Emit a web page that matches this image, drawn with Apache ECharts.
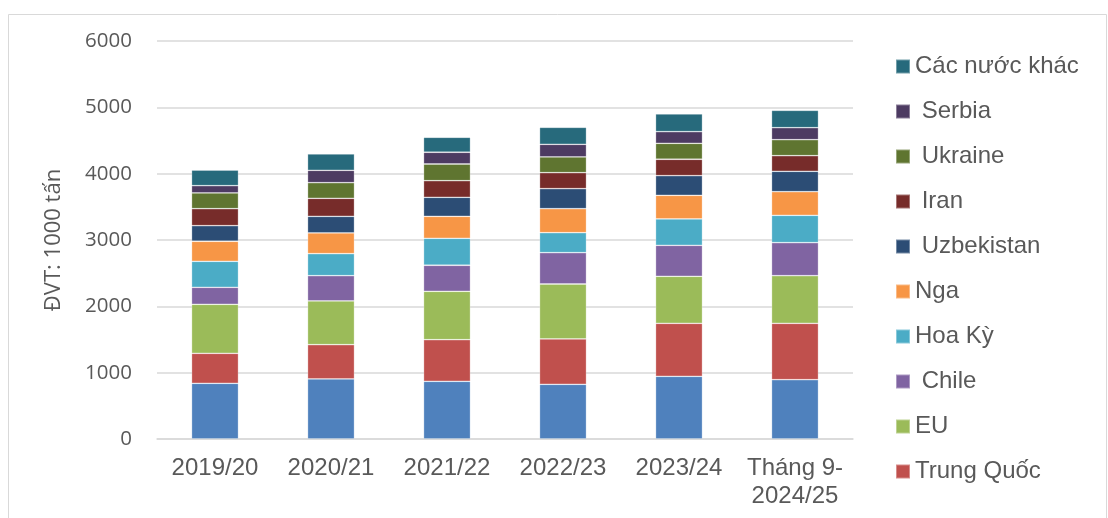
<!DOCTYPE html>
<html>
<head>
<meta charset="utf-8">
<script src="https://cdn.jsdelivr.net/npm/echarts@6/dist/echarts.min.js"></script>
<style>html,body{margin:0;padding:0;background:#fff}#c{width:1108px;height:518px}</style>
</head>
<body>
<div id="c"></div>
<script>
const categories = ['2019/20', '2020/21', '2021/22', '2022/23', '2023/24', 'Tháng 9-\n2024/25'];
const yTicks = [0, 1000, 2000, 3000, 4000, 5000, 6000];

const thoNhiKy   = [840, 905, 870, 825, 945, 894];
const trungQuoc  = [452, 517, 627, 683, 799, 850];
const eu         = [739, 659, 730, 829, 709, 718];
const chile      = [256, 381, 392, 472, 467, 498];
const hoaKy      = [392, 332, 407, 301, 397, 412];
const nga        = [302, 312, 331, 362, 357, 356];
const uzbekistan = [235, 251, 287, 302, 296, 308];
const iran       = [256, 272, 250, 241, 247, 235];
const ukraine    = [237, 235, 252, 237, 241, 241];
const serbia     = [110, 187, 177, 191, 175, 181];
const cacNuocKhac= [236, 246, 226, 256, 267, 262];

const seriesDefs = [
  ['Thổ Nhĩ Kỳ', thoNhiKy, '#4f81bd'],
  ['Trung Quốc', trungQuoc, '#c0504d'],
  ['EU', eu, '#9bbb59'],
  [' Chile', chile, '#8064a2'],
  ['Hoa Kỳ', hoaKy, '#4bacc6'],
  ['Nga', nga, '#f79646'],
  [' Uzbekistan', uzbekistan, '#2c4d75'],
  [' Iran', iran, '#772c2a'],
  [' Ukraine', ukraine, '#5f7530'],
  [' Serbia', serbia, '#4d3b62'],
  ['Các nước khác', cacNuocKhac, '#276a7c']
];
const legendNames = ['Các nước khác', ' Serbia', ' Ukraine', ' Iran', ' Uzbekistan', 'Nga', 'Hoa Kỳ', ' Chile', 'EU', 'Trung Quốc'];

const chart = echarts.init(document.getElementById('c'), null, {renderer: 'canvas'});
chart.setOption({
  animation: false,
  backgroundColor: '#fff',
  graphic: [{
    type: 'rect', left: 6, top: 12, silent: true,
    shape: {width: 1098, height: 520},
    style: {fill: 'none', stroke: '#d9d9d9', lineWidth: 1}
  }],
  grid: {left: 157, right: 255, top: 41, bottom: 79},
  legend: {
    orient: 'vertical', left: 890, top: 49.5,
    data: legendNames,
    itemWidth: 14, itemHeight: 14, itemGap: 21,
    icon: 'rect',
    textStyle: {fontFamily: 'Liberation Sans', fontSize: 24, color: '#595959', lineHeight: 24}
  },
  xAxis: {
    type: 'category', data: categories,
    axisLine: {lineStyle: {color: '#d9d9d9', width: 1.5}},
    axisTick: {show: false},
    axisLabel: {fontFamily: 'Liberation Sans', fontSize: 24, color: '#595959', margin: 15, lineHeight: 28, interval: 0}
  },
  yAxis: {
    type: 'value', min: yTicks[0], max: yTicks[yTicks.length - 1], interval: 1000,
    name: 'ĐVT: 1000 tấn', nameLocation: 'middle', nameRotate: 90, nameGap: 92,
    nameTextStyle: {fontFamily: 'Open Sans', fontSize: 22, color: '#595959'},
    axisLine: {show: false}, axisTick: {show: false},
    axisLabel: {fontFamily: 'Open Sans', fontSize: 20.5, color: '#595959', margin: 25, formatter: v => String(v)},
    splitLine: {lineStyle: {color: '#d9d9d9', width: 1.5}}
  },
  series: seriesDefs.map(([name, data, color]) => ({
    name, type: 'bar', stack: 'total', data, barWidth: 47,
    itemStyle: {color, borderColor: 'rgba(255,255,255,0.35)', borderWidth: 0.8}
  }))
});
</script>
</body>
</html>
